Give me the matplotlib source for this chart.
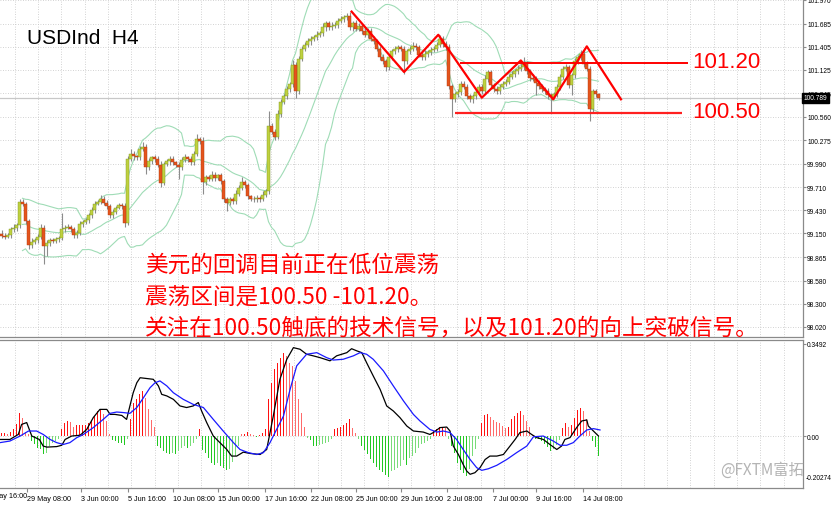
import numpy as np
import pandas as pd
import matplotlib
matplotlib.use('Agg')
import matplotlib.pyplot as plt

plt.rcParams['font.family'] = ['Liberation Sans', 'DejaVu Sans']
CJK = ['Noto Sans CJK SC', 'DejaVu Sans']

# USDInd H4 closes, one per bar
close = [99.12, 99.11, 99.13, 99.20, 99.22, 99.25, 99.53, 99.51, 99.30, 99.01,
         99.05, 99.07, 99.11, 99.22, 99.00, 99.03, 99.07, 99.06, 99.08, 99.10,
         99.20, 99.22, 99.23, 99.20, 99.13, 99.16, 99.26, 99.29, 99.31, 99.37,
         99.43, 99.51, 99.53, 99.57, 99.52, 99.48, 99.37, 99.41, 99.46, 99.49,
         99.48, 99.28, 100.05, 100.11, 100.08, 100.07, 100.17, 100.20, 99.95, 100.02,
         100.07, 100.05, 99.98, 99.76, 99.99, 100.02, 100.05, 100.01, 99.98, 99.95,
         100.04, 100.07, 100.05, 100.01, 100.11, 100.29, 100.27, 99.77, 99.83, 99.81,
         99.86, 99.82, 99.85, 99.78, 99.57, 99.52, 99.56, 99.54, 99.63, 99.70,
         99.77, 99.73, 99.60, 99.57, 99.56, 99.58, 99.57, 99.62, 99.66, 100.45,
         100.38, 100.32, 100.59, 100.74, 100.81, 100.89, 100.95, 101.18, 100.87, 101.26,
         101.38, 101.43, 101.47, 101.50, 101.52, 101.55, 101.57, 101.64, 101.69, 101.64,
         101.66, 101.67, 101.72, 101.74, 101.76, 101.78, 101.64, 101.69, 101.62, 101.66,
         101.59, 101.55, 101.60, 101.50, 101.47, 101.38, 101.28, 101.23, 101.16, 101.28,
         101.35, 101.38, 101.40, 101.38, 101.23, 101.35, 101.38, 101.42, 101.40, 101.31,
         101.28, 101.32, 101.34, 101.37, 101.38, 101.43, 101.50, 101.44, 101.40, 100.93,
         100.77, 100.83, 100.86, 100.96, 100.92, 100.81, 100.77, 100.81, 100.86, 100.92,
         100.87, 101.02, 101.10, 100.94, 100.89, 100.87, 100.92, 100.96, 100.98, 101.04,
         101.08, 101.11, 101.14, 101.16, 101.20, 101.11, 101.03, 101.02, 100.97, 100.93,
         100.89, 100.87, 100.82, 100.80, 100.83, 100.92, 101.04, 101.14, 101.16, 100.94,
         101.06, 101.23, 101.28, 101.32, 101.20, 101.14, 100.65, 100.87, 100.83, 100.789]
first_open = 99.14

# wick lengths above / below the body, in 0.01
upper_wick = [5, 3, 2, 3, 4, 3, 4, 3, 2, 3, 4, 2, 3, 5, 3, 4, 2, 3, 3, 2,
              20, 3, 4, 2, 3, 3, 4, 2, 3, 3, 4, 3, 2, 4, 3, 3, 2, 3, 2, 3,
              3, 4, 4, 6, 3, 2, 4, 6, 3, 4, 2, 3, 3, 4, 2, 3, 3, 4, 2, 3,
              3, 4, 2, 3, 3, 6, 3, 4, 3, 2, 4, 3, 2, 3, 3, 2, 3, 3, 4, 3,
              6, 3, 3, 2, 3, 3, 2, 4, 3, 18, 4, 3, 5, 3, 3, 4, 3, 6, 4, 3,
              3, 3, 4, 3, 3, 4, 3, 5, 3, 3, 4, 3, 3, 4, 3, 3, 5, 3, 4, 3,
              3, 4, 3, 3, 4, 3, 3, 4, 3, 3, 3, 4, 3, 3, 4, 3, 3, 4, 3, 3,
              3, 4, 3, 3, 4, 3, 5, 3, 3, 4, 3, 3, 4, 3, 3, 4, 3, 3, 4, 3,
              3, 4, 3, 3, 3, 4, 3, 3, 4, 3, 3, 3, 4, 6, 8, 3, 3, 4, 3, 3,
              3, 3, 4, 3, 3, 4, 3, 3, 4, 3, 3, 4, 3, 5, 4, 3, 3, 3, 3, 2]
lower_wick = [3, 3, 2, 3, 3, 4, 3, 3, 4, 5, 4, 3, 3, 3, 22, 12, 3, 3, 2, 3,
              3, 3, 2, 3, 4, 3, 3, 3, 2, 3, 3, 3, 2, 3, 3, 4, 3, 3, 3, 2,
              3, 5, 3, 3, 4, 3, 3, 3, 8, 3, 3, 4, 3, 5, 3, 3, 4, 3, 3, 14,
              3, 3, 4, 3, 3, 3, 4, 14, 3, 3, 3, 4, 3, 3, 4, 10, 3, 3, 3, 3,
              3, 3, 4, 3, 3, 3, 4, 3, 3, 3, 3, 4, 3, 3, 3, 4, 3, 3, 8, 3,
              3, 3, 3, 4, 3, 3, 3, 3, 4, 3, 3, 3, 4, 3, 3, 3, 3, 4, 3, 3,
              3, 3, 4, 3, 3, 3, 4, 3, 5, 3, 3, 3, 4, 3, 15, 3, 3, 3, 4, 3,
              3, 3, 4, 3, 3, 3, 3, 4, 3, 3, 21, 3, 3, 4, 3, 3, 3, 4, 3, 3,
              3, 3, 4, 3, 3, 3, 4, 3, 3, 3, 3, 4, 3, 3, 3, 3, 4, 3, 15, 3,
              3, 3, 4, 18, 3, 3, 4, 3, 3, 3, 12, 3, 3, 3, 4, 3, 14, 3, 3, 3]

# MACD panel: histogram per bar, lines as (bar, value)
hist = [0.010, 0.013, 0.009, 0.015, 0.028, 0.044, 0.086, 0.070, 0.015, 0.006,
        -0.019, -0.032, -0.044, -0.051, -0.070, -0.063, -0.038, -0.028, -0.019, -0.013,
        0.028, 0.048, 0.056, 0.053, 0.035, 0.040, 0.040, 0.040, 0.043, 0.051,
        0.057, 0.076, 0.095, 0.097, 0.082, 0.057, 0.006, -0.015, -0.019, -0.025,
        -0.025, -0.035, -0.013, 0.066, 0.127, 0.139, 0.158, 0.171, 0.145, 0.101,
        0.061, 0.035, -0.038, -0.044, -0.057, -0.063, -0.070, -0.063, -0.070, -0.057,
        -0.044, -0.038, -0.044, -0.038, -0.025, -0.013, 0.025, -0.053, -0.063, -0.082,
        -0.101, -0.108, -0.101, -0.114, -0.120, -0.127, -0.124, -0.099, -0.076, -0.038,
        0.006, 0.009, 0.015, 0.006, 0.003, -0.003, 0.005, 0.013, 0.028, 0.139,
        0.202, 0.253, 0.278, 0.297, 0.316, 0.304, 0.276, 0.266, 0.209, 0.139,
        0.089, 0.035, -0.006, -0.015, -0.038, -0.038, -0.035, -0.032, -0.025, -0.022,
        -0.013, 0.028, 0.032, 0.035, 0.040, 0.048, 0.063, 0.032, 0.013, -0.010,
        -0.038, -0.054, -0.070, -0.086, -0.104, -0.118, -0.127, -0.137, -0.149, -0.154,
        -0.133, -0.127, -0.120, -0.114, -0.091, -0.108, -0.083, -0.076, -0.066, -0.044,
        -0.032, -0.028, -0.019, -0.010, 0.019, 0.025, 0.035, 0.035, 0.032, -0.013,
        -0.038, -0.063, -0.101, -0.127, -0.139, -0.152, -0.124, -0.076, -0.048, -0.013,
        0.051, 0.081, 0.083, 0.073, 0.061, 0.053, 0.048, 0.038, 0.032, 0.035,
        0.063, 0.076, 0.086, 0.094, 0.078, 0.057, 0.035, 0.003, -0.013, -0.013,
        -0.019, -0.030, -0.040, -0.056, -0.048, -0.035, -0.015, 0.030, 0.048, 0.035,
        0.040, 0.070, 0.099, 0.108, 0.095, 0.063, 0.019, -0.019, -0.040, -0.075]
macd_bar = [-0.5, 2.8, 5.6, 6.7, 8.4, 10.1, 12.6, 13.9, 15.1, 18.4, 20.1, 21.2, 23.4, 26.2,
            28.4, 30.6, 32.8, 35.1, 36.2, 37.8, 40.1, 41.7, 42.8, 43.9, 45.1, 46.2, 48.4,
            50.6, 52.3, 53.4, 55.1, 57.3, 59.5, 61.7, 63.9, 65.6, 66.7, 68.4, 70.6, 72.8,
            75.1, 76.7, 78.4, 80.6, 82.8, 86.2, 88.4, 90.6, 92.8, 95.1, 97.3, 99.5, 101.7,
            103.9, 106.2, 109.5, 111.7, 115.1, 116.7, 118.4, 120.1, 121.7, 123.9, 126.2,
            128.4, 130.6, 132.8, 135.1, 137.3, 140.6, 142.8, 143.9, 146.2, 148.4, 149.5,
            150.6, 152.3, 153.9, 155.1, 156.2, 157.8, 159.5, 161.2, 162.8, 165.1, 167.3,
            169.5, 171.2, 172.8, 175.1, 176.7, 178.4, 180.6, 182.8, 185.1, 186.7, 187.8,
            189.5, 190.6, 191.7, 193.4, 195.1, 195.6, 197.3, 199.0]
macd_val = [-0.013, -0.013, 0.006, 0.044, 0.051, 0.0, -0.013, -0.038, -0.042, -0.040,
            -0.035, -0.013, 0.0, 0.003, 0.025, 0.070, 0.101, 0.101, 0.082, 0.082, 0.078,
            0.063, 0.114, 0.164, 0.202, 0.221, 0.218, 0.215, 0.190, 0.158, 0.152, 0.139,
            0.114, 0.108, 0.114, 0.127, 0.095, 0.051, 0.0, -0.025, -0.051, -0.076, -0.076,
            -0.061, -0.066, -0.070, -0.051, 0.076, 0.215, 0.291, 0.335, 0.329, 0.310,
            0.304, 0.297, 0.285, 0.304, 0.316, 0.331, 0.323, 0.316, 0.278, 0.228, 0.177,
            0.114, 0.095, 0.070, 0.038, 0.019, 0.015, 0.006, 0.013, 0.032, 0.034, 0.019,
            -0.038, -0.070, -0.108, -0.133, -0.145, -0.139, -0.120, -0.089, -0.076,
            -0.076, -0.070, -0.038, -0.013, 0.013, 0.019, 0.006, -0.006, -0.013, -0.032,
            -0.051, -0.038, -0.013, -0.006, 0.013, 0.032, 0.057, 0.061, 0.038, 0.019, 0.0]
signal_bar = [-0.5, 2.8, 6.2, 9.0, 11.7, 13.9, 16.2, 18.4, 20.6, 22.8, 25.1, 27.3, 30.6,
              33.9, 36.2, 38.4, 40.6, 42.8, 45.1, 47.3, 49.5, 51.2, 52.8, 55.1, 57.3,
              60.6, 63.9, 67.3, 70.6, 73.9, 77.3, 79.5, 82.3, 85.1, 87.3, 89.5, 91.7,
              94.0, 96.2, 98.4, 101.7, 105.1, 108.4, 110.6, 113.9, 117.3, 119.5, 121.7,
              123.9, 127.3, 130.6, 134.0, 137.3, 139.5, 142.8, 145.1, 147.3, 149.5,
              151.7, 153.9, 156.2, 158.4, 160.1, 162.3, 165.1, 168.4, 171.7, 175.1,
              177.3, 180.6, 183.9, 186.2, 188.4, 190.6, 192.8, 195.1, 197.3, 199.5]
signal_val = [-0.025, -0.019, 0.0, 0.019, 0.019, 0.006, -0.013, -0.025, -0.032, -0.025,
              -0.006, 0.006, 0.032, 0.063, 0.086, 0.091, 0.089, 0.086, 0.108, 0.145,
              0.183, 0.202, 0.209, 0.190, 0.164, 0.139, 0.120, 0.108, 0.063, 0.019,
              -0.025, -0.051, -0.063, -0.070, -0.063, -0.025, 0.025, 0.076, 0.177,
              0.266, 0.310, 0.316, 0.297, 0.288, 0.291, 0.304, 0.316, 0.310, 0.291,
              0.247, 0.190, 0.133, 0.082, 0.057, 0.025, 0.015, 0.019, 0.013, -0.013,
              -0.051, -0.089, -0.120, -0.130, -0.124, -0.111, -0.089, -0.063, -0.038,
              -0.003, 0.0, -0.019, -0.035, -0.035, -0.025, 0.0, 0.023, 0.028, 0.023]

price_ticks = [101.970, 101.685, 101.405, 101.125, 100.845, 100.560, 100.275, 99.990,
               99.710, 99.430, 99.150, 98.865, 98.580, 98.300, 98.020]
last_price = 100.789
time_labels = ['29 May 08:00', '3 Jun 00:00', '5 Jun 16:00', '10 Jun 08:00', '15 Jun 00:00',
               '17 Jun 16:00', '22 Jun 08:00', '25 Jun 00:00', '29 Jun 16:00', '2 Jul 08:00',
               '7 Jul 00:00', '9 Jul 16:00', '14 Jul 08:00']

# hand drawn annotations (bar index, price)
zigzag_x = [116.7, 134.2, 145.6, 160.1, 173.1, 183.9, 195.1, 206.5]
zigzag_y = [101.83, 101.10, 101.55, 100.79, 101.24, 100.77, 101.41, 100.77]
resistance, res_from, res_to = 101.21, 152.8, 228.7
support, sup_from, sup_to = 100.61, 151.2, 226.7

# ---- derived series
c = np.array(close)
o = np.r_[first_open, c[:-1]]
h = np.maximum(o, c) + np.array(upper_wick) / 100
l = np.minimum(o, c) - np.array(lower_wick) / 100
x = np.arange(len(c))
s = pd.Series(c)
mid = s.rolling(20, min_periods=8).mean()
sd = s.rolling(20, min_periods=8).std(ddof=0)

# ---- layout (pixels of an 832x506 picture)
W, H = 832, 506
def px2x(p):
    return (p - 1.5) / 3

fig = plt.figure(figsize=(W / 100, H / 100), dpi=100)
ax = fig.add_axes([0, 1 - 338 / H, 803 / W, 338 / H])
ax2 = fig.add_axes([0, 1 - 489 / H, 803 / W, 148 / H])

xmax = px2x(803)
for a in (ax, ax2):
    a.set_xlim(-0.5, xmax)
    for gp in np.arange(14.7, 803, 23.3):
        a.axvline(px2x(gp), color='#c4c4c4', lw=0.6, ls=(0, (1, 2)), zorder=0)
    a.spines['left'].set_visible(False)
    for sp in ('right', 'bottom', 'top'):
        a.spines[sp].set_color('#8a8a8a')
        a.spines[sp].set_linewidth(0.9)
ax.spines['top'].set_visible(False)

ax.set_ylim(101.982 - 0.01208 * 338, 101.982)
for p in price_ticks:
    ax.axhline(p, color='#c4c4c4', lw=0.6, ls=(0, (1, 2)), zorder=0)
ax.axhline(last_price, color='#c8c8c8', lw=0.9, zorder=1)

# bollinger bands
for band in (mid, mid + 2 * sd, mid - 2 * sd):
    ax.plot(x, band, color='#9fdcb6', lw=0.8, zorder=1)

# candles
up = c >= o
body = np.maximum(np.abs(c - o), 0.006)
ax.vlines(x, l, h, color='#8c8c8c', lw=0.8, zorder=2)
ax.bar(x[up], body[up], bottom=o[up], width=0.72, color='#bfd13f',
       edgecolor='#7d9322', linewidth=0.3, zorder=3)
ax.bar(x[~up], body[~up], bottom=c[~up], width=0.72, color='#e4541c',
       edgecolor='#b13a10', linewidth=0.3, zorder=3)

# red analysis lines
ax.plot(zigzag_x, zigzag_y, color='#ff0000', lw=1.6, zorder=5)
ax.hlines(resistance, res_from, res_to, color='#ff0000', lw=1.4, zorder=5)
ax.hlines(support, sup_from, sup_to, color='#ff2020', lw=1.6, zorder=5)

ax.yaxis.tick_right()
ax.set_yticks(price_ticks)
ax.set_yticklabels(['%.3f' % p for p in price_ticks])
ax.tick_params(axis='y', length=2, color='#8a8a8a', labelsize=4.8, pad=1)
ax.set_xticks([])
ax.text(1.001, last_price, '%.3f' % last_price, transform=ax.get_yaxis_transform(),
        ha='left', va='center', fontsize=4.8, color='white',
        bbox=dict(boxstyle='square,pad=0.25', fc='black', ec='black'))

# MACD panel
hv = np.array(hist)
ax2.set_ylim(-0.197, 0.364)
ax2.axhline(0, color='#c4c4c4', lw=0.6, ls=(0, (1, 2)), zorder=0)
dh = np.diff(np.abs(hv), prepend=0)
cols = np.where(hv >= 0, np.where(dh >= 0, '#ff1010', '#ff6a6a'),
                np.where(dh >= 0, '#22c822', '#78dc78'))
ax2.bar(x, hv, width=0.5, color=cols, zorder=2)
ax2.plot(macd_bar, macd_val, color='black', lw=0.9, zorder=3)
ax2.plot(signal_bar, signal_val, color='#1a1aff', lw=0.9, zorder=3)
ax2.yaxis.tick_right()
ax2.set_yticks([0.3492, 0.0])
ax2.set_yticklabels(['0.3492', '0.00'])
ax2.tick_params(axis='y', length=2, color='#8a8a8a', labelsize=4.8, pad=1)
ax2.text(1.003, 1 - (479 - 341) / 148, '-0.20274', transform=ax2.transAxes,
         ha='left', va='center', fontsize=4.8)

ticks_px = [27, 81, 128, 173, 218, 265, 311, 356, 401, 447, 493, 536, 583]
ax2.set_xticks([px2x(p) for p in ticks_px])
ax2.set_xticklabels(time_labels, ha='left')
ax2.tick_params(axis='x', length=3, color='#8a8a8a', labelsize=5.2, pad=2)
fig.text(27 / W, 1 - 497 / H, '26 May 16:00', fontsize=5.2, va='center', ha='right')

# texts
fig.text(27 / W, 1 - 44 / H, 'USDInd  H4', fontsize=15, va='baseline')
fig.text(692 / W, 1 - 62 / H, '101.20', fontsize=16, color='#ff0000', va='center')
fig.text(692 / W, 1 - 113 / H, '100.50', fontsize=16, color='#ff0000', va='center')
notes = ['美元的回调目前正在低位震荡',
         '震荡区间是100.50 -101.20。',
         '关注在100.50触底的技术信号，以及101.20的向上突破信号。']
for txt, yp in zip(notes, [265, 297, 328]):
    fig.text(145 / W, 1 - yp / H, txt, family=CJK, fontsize=16.3, color='#ff0000', va='center')
fig.text(720 / W, 1 - 470 / H, '@FXTM富拓', family=CJK, fontsize=11,
         color='#b4b4b4', va='center')

fig.savefig('out.png', dpi=100)
